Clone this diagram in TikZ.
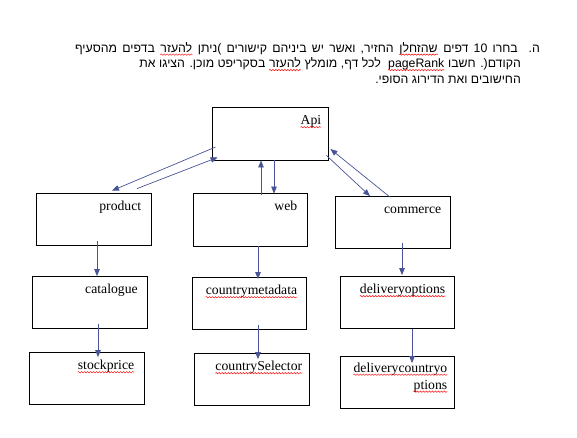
\documentclass[tikz,border=0pt]{standalone}
\usepackage{fontspec}
\setmainfont{Liberation Serif}
\newfontfamily\hebfont[Script=Hebrew]{Liberation Sans}
\TeXXeTstate=1
\usetikzlibrary{arrows.meta}
\usetikzlibrary{calc}
\usetikzlibrary{decorations.pathmorphing}
\definecolor{linkblue}{RGB}{72,84,150}
\newcommand{\widespaces}{\spaceskip=5.2pt\relax}

\begin{document}
\begin{tikzpicture}[x=1pt,y=-1pt,
  page/.style={draw=black,line width=0.8pt,minimum width=115pt,minimum height=52pt,inner sep=0pt},
  pagename/.style={font=\fontsize{13.7}{17}\selectfont,anchor=base east,inner sep=0pt},
  link/.style={draw=linkblue,line width=0.7pt,-{Triangle[length=7pt,width=5.5pt]}},
  heb/.style={font=\hebfont\fontsize{12.3}{16}\selectfont,anchor=base east,inner sep=0pt},
  wideheb/.style={heb,execute at begin node=\widespaces},
  squig/.style={red,line width=0.45pt,decorate,decoration={snake,amplitude=0.7pt,segment length=3pt}}]
\useasboundingbox (0,0) rectangle (577,437);

% the question text, right to left
\node[heb] (itemno) at (540,52) {\beginR ה.\endR};
\node[wideheb] (l1a) at (518,52) {\beginR בחרו 10 דפים\endR};
\node[wideheb] (l1b) at ([xshift=-5.2pt]l1a.base west) {\beginR שהזחלן\endR};
\node[wideheb] (l1c) at ([xshift=-5.2pt]l1b.base west) {\beginR החזיר, ואשר יש ביניהם קישורים )ניתן\endR};
\node[wideheb] (l1d) at ([xshift=-5.2pt]l1c.base west) {\beginR להעזר\endR};
\node[wideheb] (l1e) at ([xshift=-5.2pt]l1d.base west) {\beginR בדפים מהסעיף\endR};
\node[heb] (l2a) at (521,67.5) {\beginR הקודם(. חשבו\endR};
\node[heb] (l2b) at ([xshift=-3.4pt]l2a.base west) {pageRank};
\node[heb] (l2c) at ([xshift=-7pt]l2b.base west) {\beginR לכל דף, מומלץ\endR};
\node[heb] (l2d) at ([xshift=-3.4pt]l2c.base west) {\beginR להעזר\endR};
\node[heb] (l2e) at ([xshift=-3.4pt]l2d.base west) {\beginR בסקריפט מוכן. הציגו את\endR};
\node[heb] (l3) at (521,83) {\beginR החישובים ואת הדירוג הסופי.\endR};

% pages
\node[page,minimum width=116pt,minimum height=53pt] (api) at (270,133.5) {};
\node[page] (product) at (93.5,219) {};
\node[page,minimum width=114pt,minimum height=53pt] (web) at (250,219.5) {};
\node[page] (commerce) at (392.5,222.5) {};
\node[page] (catalogue) at (90,302.5) {};
\node[page,minimum width=114pt] (countrymetadata) at (249,303.5) {};
\node[page,minimum width=114pt] (deliveryoptions) at (397,302.5) {};
\node[page] (stockprice) at (86.5,378.5) {};
\node[page] (countryselector) at (251.5,379.5) {};
\node[page,minimum width=114pt] (deliverycountryoptions) at (397,382.5) {};

% page names
\node[pagename] (api-t) at ($(api.north east)+(-7,18)$) {Api};
\node[pagename] (product-t) at ($(product.north east)+(-10,17.5)$) {product};
\node[pagename] (web-t) at ($(web.north east)+(-10,17.5)$) {web};
\node[pagename] (commerce-t) at ($(commerce.north east)+(-9,17.5)$) {commerce};
\node[pagename] (catalogue-t) at ($(catalogue.north east)+(-10,17.5)$) {catalogue};
\node[pagename] (countrymetadata-t) at ($(countrymetadata.north east)+(-9,17.5)$) {countrymetadata};
\node[pagename] (deliveryoptions-t) at ($(deliveryoptions.north east)+(-9,17.5)$) {deliveryoptions};
\node[pagename] (stockprice-t) at ($(stockprice.north east)+(-10,17.5)$) {stockprice};
\node[pagename] (countryselector-t) at ($(countryselector.north east)+(-7,17.5)$) {countrySelector};
\node[pagename] (deliverycountryoptions-t) at ($(deliverycountryoptions.north east)+(-7,16)$) {deliverycountryo};
\node[pagename] (deliverycountryoptions-u) at ($(deliverycountryoptions-t.base east)+(0,17)$) {ptions};

% spelling marks
\foreach \w in {l1b,l1d,l2b,l2d,api-t,countrymetadata-t,deliveryoptions-t,stockprice-t,countryselector-t,deliverycountryoptions-t,deliverycountryoptions-u}
  \draw[squig] ([yshift=-2.6pt]\w.base west) -- ([yshift=-2.6pt]\w.base east);

% links between pages
\draw[link] ($(api.west)+(4,13.5)$) -- ($(product.north)+(18.5,-2)$);
\draw[link] ($(product.north)+(43.5,-4)$) -- ($(api.south west)+(6,-3)$);
\draw[link] ($(web.north)+(11,2)$) -- ($(api.south)+(-9,0)$);
\draw[link] ($(api.south)+(4,0)$) -- ($(web.north)+(24,1)$);
\draw[link] ($(api.south east)+(-2,-5)$) -- ($(commerce.north)+(-22.5,0)$);
\draw[link] ($(commerce.north)+(-2.5,1)$) -- ($(api.east)+(2,15.5)$);

\draw[link] ($(product.south)+(3.5,-4)$) -- ($(catalogue.north)+(7,0)$);
\draw[link] ($(catalogue.south)+(8,-5)$) -- ($(stockprice.north)+(11.5,5)$);
\draw[link] ($(web.south)+(8,0)$) -- ($(countrymetadata.north)+(9,2)$);
\draw[link] ($(countrymetadata.south)+(9,-5)$) -- ($(countryselector.north)+(6.5,6)$);
\draw[link] ($(commerce.south)+(9.5,-6)$) -- ($(deliveryoptions.north)+(5,-1)$);
\draw[link] ($(deliveryoptions.south)+(15,0)$) -- ($(deliverycountryoptions.north)+(15,7)$);

\end{tikzpicture}
\end{document}
